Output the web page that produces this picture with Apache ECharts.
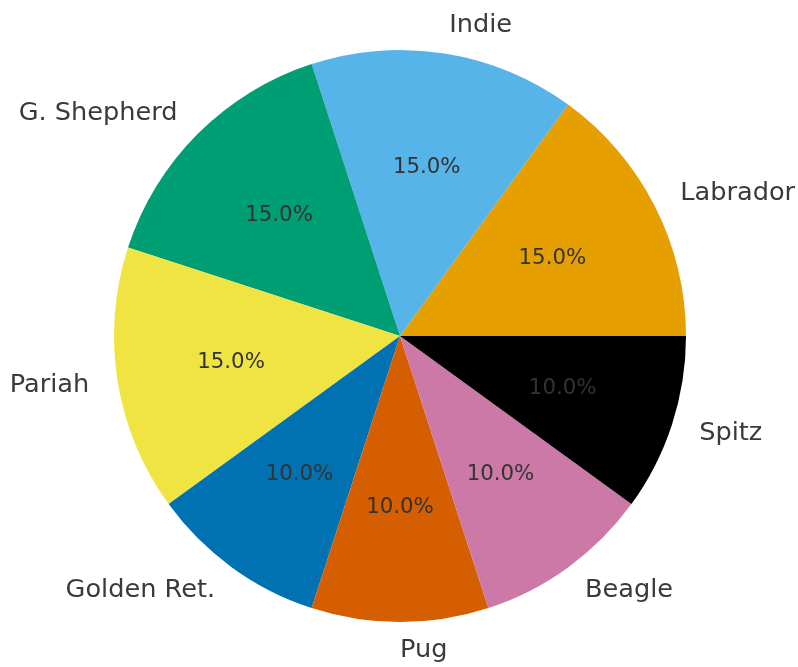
<!DOCTYPE html>
<html>
<head>
<meta charset="utf-8">
<script src="https://cdn.jsdelivr.net/npm/echarts@6/dist/echarts.min.js"></script>
<style>
html,body{margin:0;padding:0;background:#fff;}
#chart{width:798px;height:667px;}
</style>
</head>
<body>
<div id="chart"></div>
<script>
const categories = ['Labrador', 'Indie', 'G. Shepherd', 'Pariah', 'Golden Ret.', 'Pug', 'Beagle', 'Spitz'];
const values = [15, 15, 15, 15, 10, 10, 10, 10];
const colors = ['#E69F00', '#56B4E9', '#009E73', '#F0E442', '#0072B2', '#D55E00', '#CC79A7', '#000000'];
const leftAligned = ['Pug'];

const R = 286;
const center = [400, 336];
const total = values.reduce((a, b) => a + b, 0);
const data = categories.map((c, i) => ({ name: c, value: values[i], itemStyle: { color: colors[i] } }));

const chart = echarts.init(document.getElementById('chart'), null, { renderer: 'canvas' });
chart.setOption({
  animation: false,
  backgroundColor: '#ffffff',
  series: [
    {
      type: 'pie',
      center: center,
      radius: [0, R],
      startAngle: 0,
      clockwise: false,
      avoidLabelOverlap: false,
      silent: true,
      itemStyle: { borderWidth: 0 },
      data: data,
      label: {
        show: true,
        position: 'outside',
        formatter: '{b}',
        fontFamily: 'DejaVu Sans',
        fontSize: 25.6,
        color: '#3a3a3a',
        distanceToLabelLine: 0
      },
      labelLine: { show: false, length: R * 0.1, length2: 0 },
      labelLayout: function (params) {
        const name = categories[params.dataIndex];
        if (leftAligned.indexOf(name) >= 0 && params.align === 'right') {
          return { x: params.labelRect.x + params.labelRect.width, align: 'left' };
        }
        return {};
      }
    },
    {
      type: 'pie',
      center: center,
      radius: [R * 0.175, R],
      startAngle: 0,
      clockwise: false,
      avoidLabelOverlap: false,
      silent: true,
      itemStyle: { color: 'rgba(0,0,0,0)', borderWidth: 0 },
      data: categories.map((c, i) => ({ name: c, value: values[i] })),
      label: {
        show: true,
        position: 'inside',
        formatter: p => (p.value / total * 100).toFixed(1) + '%',
        fontFamily: 'DejaVu Sans',
        fontSize: 21.3,
        color: '#333333'
      },
      labelLine: { show: false }
    }
  ]
});
</script>
</body>
</html>
